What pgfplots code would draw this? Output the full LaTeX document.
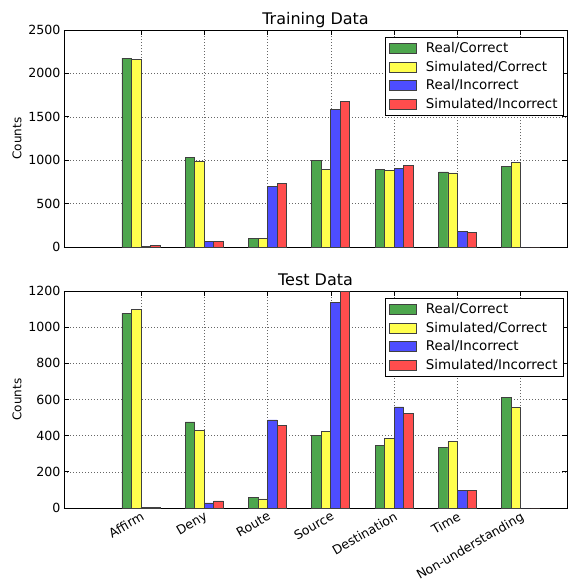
\documentclass[border=0pt]{standalone}
\usepackage{fontspec}
\setmainfont{DejaVu Sans}
\usepackage{pgfplots}
\pgfplotsset{compat=1.18}
\usepackage{pgfplotstable}

\definecolor{cgreen}{HTML}{4DA64D}
\definecolor{cyellow}{HTML}{FFFF4D}
\definecolor{cblue}{HTML}{4D4DFF}
\definecolor{cred}{HTML}{FF4D4D}
\definecolor{cedge}{HTML}{404040}

% counts per dialogue act: real/simulated, correct/incorrect
\pgfplotstableread{
x rc sc ri si
0 2175 2160 4 15
1 1035 990 62 62
2 99 99 696 731
3 997 893 1581 1678
4 893 885 904 939
5 865 853 177 165
6 931 969 0 0
}\train

\pgfplotstableread{
x rc sc ri si
0 1076 1099 3 4
1 476 428 28 39
2 59 50 487 456
3 399 423 1139 1200
4 344 386 559 522
5 333 369 96 96
6 612 555 0 0
}\test

\newcommand\tickfont{\fontsize{12.6pt}{14pt}\selectfont}
\newcommand\legfont{\fontsize{13.4pt}{15pt}\selectfont}

\pgfplotsset{
  chart/.style={
    scale only axis, width=503pt, height=217pt,
    xmin=-1.216, xmax=6.73, ymin=0,
    xtick={0,...,6},
    ybar, bar width=0.15,
    tick align=inside, tick pos=both,
    major tick length=5pt,
    tick style={black, line width=0.7pt},
    axis line style={black, line width=0.9pt},
    grid=major,
    major grid style={black!60, dash pattern=on 1pt off 2pt, line width=0.6pt},
    /pgf/number format/assume math mode=true,
    /pgf/number format/1000 sep={},
    scaled y ticks=false,
    tick label style={font=\tickfont},
    ylabel={Counts},
    ylabel style={font=\fontsize{12pt}{14pt}\selectfont},
    title style={font=\fontsize{16pt}{18pt}\selectfont,
      at={(0.5,1)}, anchor=base, yshift=0pt},
    legend cell align=left,
    legend style={at={(rel axis cs:0.994,0.968)}, anchor=north east,
      draw=black, line width=0.9pt, font=\legfont,
      row sep=3pt, column sep=7pt, inner xsep=4pt, inner ysep=3pt},
    legend image code/.code={\draw[#1, line width=0.8pt] (0pt,-5pt) rectangle (27pt,5pt);},
  },
  bars/.style={draw=cedge, line width=0.8pt, fill=#1},
}

\begin{document}
\begin{tikzpicture}
\useasboundingbox (0,0) rectangle (568pt,-584pt);

\begin{axis}[chart, at={(64pt,-30pt)}, anchor=north west,
  ymax=2500, ytick={0,500,...,2500},
  xticklabels={},
  title={Training Data}]
\addplot[bars=cgreen, bar shift=-0.225] table[x=x, y=rc] {\train};
\addplot[bars=cyellow, bar shift=-0.075] table[x=x, y=sc] {\train};
\addplot[bars=cblue, bar shift=0.075] table[x=x, y=ri] {\train};
\addplot[bars=cred, bar shift=0.225] table[x=x, y=si] {\train};
\legend{Real/Correct, Simulated/Correct, Real/Incorrect, Simulated/Incorrect}
\end{axis}

\begin{axis}[chart, at={(64pt,-291pt)}, anchor=north west,
  ymax=1200, ytick={0,200,...,1200},
  xticklabels={Affirm, Deny, Route, Source, Destination, Time, Non-understanding},
  xticklabel style={rotate=30, anchor=north east, inner sep=2pt},
  title={Test Data}]
\addplot[bars=cgreen, bar shift=-0.225] table[x=x, y=rc] {\test};
\addplot[bars=cyellow, bar shift=-0.075] table[x=x, y=sc] {\test};
\addplot[bars=cblue, bar shift=0.075] table[x=x, y=ri] {\test};
\addplot[bars=cred, bar shift=0.225] table[x=x, y=si] {\test};
\legend{Real/Correct, Simulated/Correct, Real/Incorrect, Simulated/Incorrect}
\end{axis}
\end{tikzpicture}
\end{document}
